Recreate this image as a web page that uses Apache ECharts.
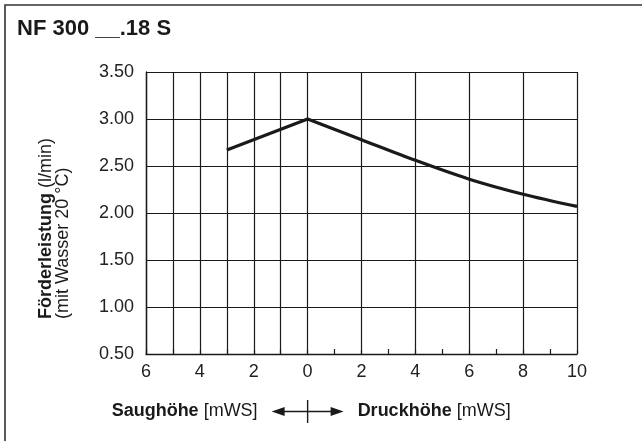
<!DOCTYPE html>
<html>
<head>
<meta charset="utf-8">
<script src="https://cdn.jsdelivr.net/npm/echarts@6/dist/echarts.min.js"></script>
<style>html,body{margin:0;padding:0;background:#fff;}#c{width:642px;height:441px;}</style>
</head>
<body>
<div id="c"></div>
<script>
// Data
const titleText = 'NF 300 __.18 S';
const suctionX = [-3, 0];
const suctionY = [2.67, 3.00];
const pressureX = [0, 2, 4, 6, 8, 10];
const pressureY = [3.00, 2.78, 2.56, 2.36, 2.20, 2.07];
const extraGridX = [-5, -3, -1];
const yTicks = [0.5, 1.0, 1.5, 2.0, 2.5, 3.0, 3.5];
const xTicks = [-6, -4, -2, 0, 2, 4, 6, 8, 10];

const FONT = '"Liberation Sans", Arial, Helvetica, sans-serif';
const INK = '#1a1a1a';
const chart = echarts.init(document.getElementById('c'), null, {renderer: 'canvas'});

const gridLine = {color: INK, width: 1.2, type: 'solid'};

const option = {
  animation: false,
  backgroundColor: '#ffffff',
  grid: {left: 146, right: 65, top: 72, bottom: 87},
  xAxis: {
    type: 'value',
    min: xTicks[0], max: xTicks[xTicks.length - 1], interval: 2,
    axisLine: {onZero: false, lineStyle: {color: INK, width: 1.4}},
    axisTick: {show: true, inside: true, length: 4, lineStyle: {color: INK, width: 1.2}},
    minorTick: {show: true, splitNumber: 2, length: 5, lineStyle: {color: INK, width: 1.2}},
    splitLine: {show: true, lineStyle: gridLine},
    axisLabel: {
      formatter: v => String(Math.abs(v)),
      fontSize: 18, color: '#222', margin: 9, fontFamily: FONT
    }
  },
  yAxis: {
    type: 'value',
    min: yTicks[0], max: yTicks[yTicks.length - 1], interval: 0.5,
    axisLine: {show: true, onZero: false, lineStyle: {color: INK, width: 1.4}},
    axisTick: {show: false},
    splitLine: {show: true, lineStyle: gridLine},
    axisLabel: {
      formatter: v => v.toFixed(2),
      fontSize: 18, color: '#222', margin: 12, fontFamily: FONT
    }
  },
  series: [
    {
      type: 'line',
      data: suctionX.map((x, i) => [x, suctionY[i]]),
      symbol: 'none',
      lineStyle: {color: INK, width: 3.2},
      silent: true,
      markLine: {
        silent: true,
        symbol: ['none', 'none'],
        label: {show: false},
        lineStyle: gridLine,
        emphasis: {disabled: true},
        data: extraGridX.map(x => ({xAxis: x}))
      },
      z: 5
    },
    {
      type: 'line',
      data: pressureX.map((x, i) => [x, pressureY[i]]),
      symbol: 'none',
      smooth: 0.3,
      lineStyle: {color: INK, width: 3.2},
      silent: true,
      z: 5
    }
  ]
};
chart.setOption(option);

const x0 = chart.convertToPixel({xAxisIndex: 0}, 0);
const yText = 411.5;
const richB = {font: 'bold 18px ' + FONT, fill: '#1a1a1a'};
const richR = {font: '18px ' + FONT, fill: '#1a1a1a'};
chart.setOption({
  graphic: [
    // frame
    {type: 'polyline', shape: {points: [[5, 441], [5, 5], [642, 5]]}, style: {stroke: '#333', lineWidth: 1.6, fill: null}, silent: true},
    // title
    {type: 'text', x: 17, y: 28.5, style: {text: titleText, font: 'bold 22px ' + FONT, fill: '#1a1a1a', verticalAlign: 'middle', align: 'left'}, silent: true},
    // y axis name
    {type: 'text', x: 37, y: 319, rotation: Math.PI / 2, silent: true,
      style: {
        text: '{b|Förderleistung }{r|(l/min)}\n{r|(mit Wasser 20 °C)}',
        align: 'left', verticalAlign: 'top', fill: '#1a1a1a',
        rich: {
          b: Object.assign({lineHeight: 17.5}, richB),
          r: Object.assign({lineHeight: 17.5}, richR)
        }
      }
    },
    // bottom labels
    {type: 'text', x: x0 - 50, y: yText, silent: true,
      style: {text: '{b|Saughöhe }{r|[mWS]}', align: 'right', verticalAlign: 'middle',
        rich: {b: richB, r: richR}}},
    {type: 'text', x: x0 + 50, y: yText, silent: true,
      style: {text: '{b|Druckhöhe }{r|[mWS]}', align: 'left', verticalAlign: 'middle',
        rich: {b: richB, r: richR}}},
    // arrows
    {type: 'line', shape: {x1: x0 - 26, y1: yText, x2: x0 + 26, y2: yText}, style: {stroke: '#1a1a1a', lineWidth: 1.6}, silent: true},
    {type: 'line', shape: {x1: x0, y1: yText - 11.5, x2: x0, y2: yText + 11.5}, style: {stroke: '#1a1a1a', lineWidth: 1.4}, silent: true},
    {type: 'polygon', shape: {points: [[x0 - 36, yText], [x0 - 23, yText - 4.5], [x0 - 23, yText + 4.5]]}, style: {fill: '#1a1a1a'}, silent: true},
    {type: 'polygon', shape: {points: [[x0 + 36, yText], [x0 + 23, yText - 4.5], [x0 + 23, yText + 4.5]]}, style: {fill: '#1a1a1a'}, silent: true}
  ]
});
</script>
</body>
</html>
